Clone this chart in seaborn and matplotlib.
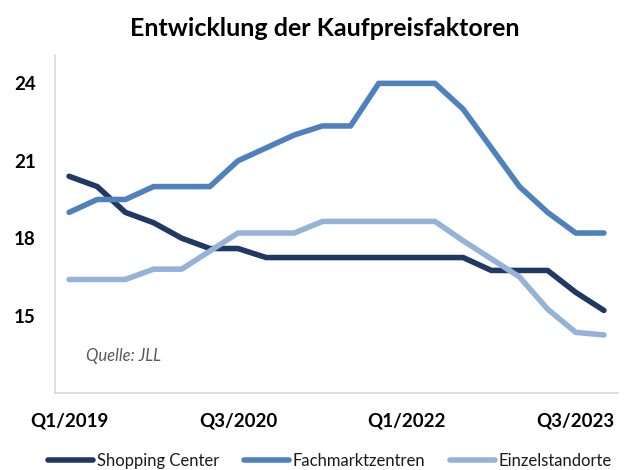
import pandas as pd
import seaborn as sns
import matplotlib.pyplot as plt

quarters = [f"Q{q}/{y}" for y in range(2019, 2024) for q in range(1, 5)]
shopping_center = [20.4, 20.0, 19.0, 18.6, 18.0, 17.6, 17.6, 17.25, 17.25, 17.25,
                   17.25, 17.25, 17.25, 17.25, 17.25, 16.75, 16.75, 16.75, 15.9, 15.2]
fachmarktzentren = [19.0, 19.5, 19.5, 20.0, 20.0, 20.0, 21.0, 21.5, 22.0, 22.35,
                    22.35, 24.0, 24.0, 24.0, 23.0, 21.5, 20.0, 19.0, 18.2, 18.2]
einzelstandorte = [16.4, 16.4, 16.4, 16.8, 16.8, 17.5, 18.2, 18.2, 18.2, 18.65,
                   18.65, 18.65, 18.65, 18.65, 17.9, 17.2, 16.5, 15.25, 14.35, 14.25]
series_names = ["Shopping Center", "Fachmarktzentren", "Einzelstandorte"]
colors = ["#1F3864", "#4F81BD", "#95B3D7"]
xtick_labels = ["Q1/2019", "Q3/2020", "Q1/2022", "Q3/2023"]
yticks = [15, 18, 21, 24]

df = pd.DataFrame({
    "idx": list(range(len(quarters))) * 3,
    "quarter": quarters * 3,
    "value": shopping_center + fachmarktzentren + einzelstandorte,
    "series": sum([[n] * len(quarters) for n in series_names], []),
})

sns.set_style("white")
plt.rcParams["font.family"] = ["Lato", "DejaVu Sans"]
plt.rcParams["text.color"] = "#000000"

fig = plt.figure(figsize=(6.42, 4.70), dpi=100)
ax = fig.add_axes([0.0857, 0.1638, 0.8769, 0.7192])

sns.lineplot(data=df, x="idx", y="value", hue="series", palette=colors,
             hue_order=series_names, linewidth=4, ax=ax, legend=True,
             solid_capstyle="round")

ax.set_xlim(-0.5, 19.5)
ax.set_ylim(12, 25.1)
ax.set_xticks([quarters.index(q) for q in xtick_labels])
ax.set_xticklabels(xtick_labels)
ax.set_yticks(yticks)
ax.set_xlabel("")
ax.set_ylabel("")
ax.tick_params(axis="both", length=0, labelsize=13.5)
ax.tick_params(axis="x", pad=14)
ax.tick_params(axis="y", pad=14)
for lab in ax.get_xticklabels() + ax.get_yticklabels():
    lab.set_fontweight("bold")
    lab.set_color("#000000")

for side in ["top", "right"]:
    ax.spines[side].set_visible(False)
for side in ["left", "bottom"]:
    ax.spines[side].set_color("#d9d9d9")
    ax.spines[side].set_linewidth(1.2)

ax.text(0.055, 0.109, "Quelle: JLL", transform=ax.transAxes, fontsize=12,
        style="italic", color="#595959", va="center", ha="left")

fig.suptitle("Entwicklung der Kaufpreisfaktoren", x=0.506, y=0.94,
             fontsize=18, fontweight="bold", va="center", color="#000000")

handles, labels = ax.get_legend_handles_labels()
ax.get_legend().remove()
leg = fig.legend(handles, labels, loc="center", bbox_to_anchor=(0.514, 0.02),
                 ncol=3, frameon=False, fontsize=12, handlelength=2.7,
                 handletextpad=0.2, columnspacing=1.5, labelcolor="#1a1a1a")
for h in leg.get_lines():
    h.set_linewidth(4)
    h.set_solid_capstyle("round")

fig.savefig("out.png", dpi=100)
